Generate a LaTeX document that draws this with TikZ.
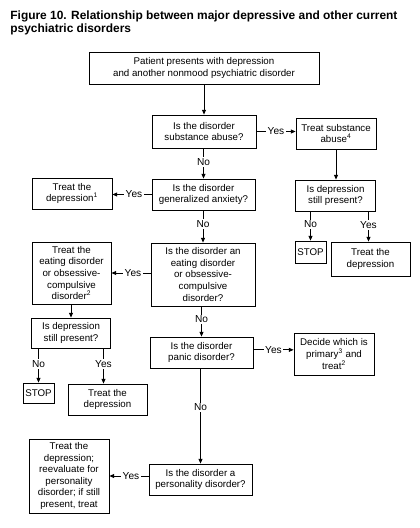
\documentclass[tikz,border=0pt]{standalone}
\usepackage{fontspec}
\setmainfont{Liberation Sans}
\usetikzlibrary{arrows.meta}

\tikzset{every picture/.style={line width=0.6pt}}
\tikzset{
  box/.style={draw, align=center, inner sep=0pt, font=\fontsize{7.3}{8.7}\selectfont},
  arr/.style={-{Triangle[length=3.6pt,width=3pt]}},
  lbl/.style={fill=white, inner sep=1pt, font=\fontsize{7.6}{8}\selectfont},
}
\newcommand{\fn}[1]{\textsuperscript{\tiny #1}}

\begin{document}
\begin{tikzpicture}[x=0.75pt,y=0.75pt,yscale=-1,xscale=1]
	\useasboundingbox (0,0) rectangle (419,528);

	% Title
	\node [anchor=north west, align=left, inner sep=0pt, font=\fontsize{8.95}{10}\selectfont\bfseries] (title) at (10,10.5) {Figure 10. Relationship between major depressive and other current\\psychiatric disorders};

	% Boxes
	\node [box, minimum width=172.5pt, minimum height=24pt] (patient) at (204,68) {Patient presents with depression\\and another nonmood psychiatric disorder};
	\node [box, minimum width=78pt, minimum height=24.75pt] (qsub) at (204,131.5) {Is the disorder\\substance abuse?};
	\node [box, minimum width=60pt, minimum height=23.25pt] (tsub) at (336,133.5) {Treat substance\\abuse\fn{4}};
	\node [box, minimum width=60pt, minimum height=23.25pt] (qstill) at (335.5,195.5) {Is depression\\still present?};
	\node [box, minimum width=77.25pt, minimum height=23.25pt] (qgad) at (203.5,194.5) {Is the disorder\\generalized anxiety?};
	\node [box, minimum width=60pt, minimum height=23.25pt] (tdep) at (72,193.5) {Treat the\\depression\fn{1}};
	\node [box, minimum width=23.25pt, minimum height=16.5pt] (stopa) at (310.5,252) {STOP};
	\node [box, minimum width=59.25pt, minimum height=25.5pt] (tdepa) at (370.5,259) {Treat the\\depression};
	\node [box, minimum width=78pt, minimum height=47.25pt] (qeat) at (203,274.5) {Is the disorder an\\eating disorder\\or obsessive-\\compulsive\\disorder?};
	\node [box, minimum width=59.25pt, minimum height=46.5pt] (teat) at (71.5,273) {Treat the\\eating disorder\\or obsessive-\\compulsive\\disorder\fn{2}};
	\node [box, minimum width=59.25pt, minimum height=22.5pt] (qstillb) at (71,333) {Is depression\\still present?};
	\node [box, minimum width=23.25pt, minimum height=15pt] (stopb) at (38.5,393) {STOP};
	\node [box, minimum width=59.25pt, minimum height=23.25pt] (tdepb) at (107.5,399.5) {Treat the\\depression};
	\node [box, minimum width=77.25pt, minimum height=23.25pt] (qpanic) at (201.5,352.5) {Is the disorder\\panic disorder?};
	\node [box, minimum width=60pt, minimum height=31.5pt] (tprim) at (334,354) {Decide which is\\primary\fn{3} and\\treat\fn{2}};
	\node [box, minimum width=77.25pt, minimum height=23.25pt] (qpers) at (200.5,479.5) {Is the disorder a\\personality disorder?};
	\node [box, minimum width=60pt, minimum height=55.5pt] (tpers) at (69,476) {Treat the\\depression;\\reevaluate for\\personality\\disorder; if still\\present, treat};

	% Connectors
	\draw [arr] (patient.south -| qsub) -- (qsub);
	\draw [arr] (qsub.east) -- node [lbl] {Yes} (qsub.east -| tsub.west);
	\draw [arr] (tsub.south) -- (tsub.south |- qstill.north);
	\draw [arr] (qsub.south -| qgad) -- node [lbl, pos=0.45] {No} (qgad);
	\draw [arr] (qgad.west) -- node [lbl, pos=0.45] {Yes} (qgad.west -| tdep.east);
	\draw [arr] (stopa |- qstill.south) -- node [lbl, pos=0.45] {No} (stopa);
	\draw [arr] ([xshift=-1.5pt]tdepa.north |- qstill.south) -- node [lbl, pos=0.45] {Yes} ([xshift=-1.5pt]tdepa.north);
	\draw [arr] (qgad.south -| qeat) -- node [lbl, pos=0.43] {No} (qeat);
	\draw [arr] (qeat.west |- teat.east) -- node [lbl, pos=0.45] {Yes} (teat.east);
	\draw [arr] (teat.south -| qstillb) -- (qstillb);
	\draw [arr] (stopb |- qstillb.south) -- node [lbl, pos=0.45] {No} (stopb);
	\draw [arr] ([xshift=-3pt]tdepb.north |- qstillb.south) -- node [lbl, pos=0.45] {Yes} ([xshift=-3pt]tdepb.north);
	\draw [arr] (qeat.south -| qpanic) -- node [lbl, pos=0.43] {No} (qpanic);
	\draw [arr] ([yshift=-2pt]qpanic.east) -- node [lbl] {Yes} ([yshift=-2pt]qpanic.east -| tprim.west);
	\draw [arr] (qpanic.south -| qpers) -- node [lbl, pos=0.41] {No} (qpers);
	\draw [arr] (qpers.west |- tpers.east) -- node [lbl, pos=0.45] {Yes} (tpers.east);
\end{tikzpicture}
\end{document}
